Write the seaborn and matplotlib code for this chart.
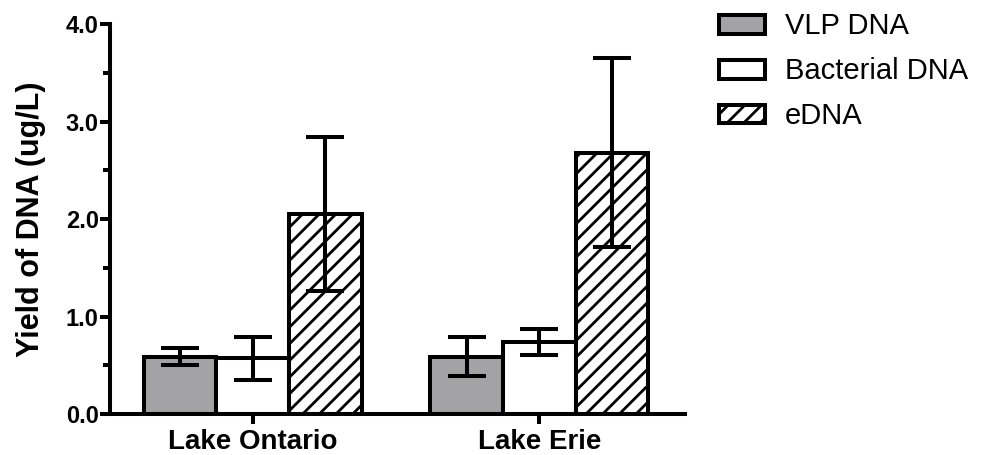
import matplotlib
matplotlib.use("Agg")
import matplotlib.pyplot as plt
from matplotlib.patches import Patch
from matplotlib.ticker import MultipleLocator, FormatStrFormatter
import seaborn as sns
import pandas as pd

lakes = ["Lake Ontario", "Lake Erie"]
dna_types = ["VLP DNA", "Bacterial DNA", "eDNA"]
vlp = [0.59, 0.59]
vlp_err = [0.09, 0.20]
bact = [0.57, 0.74]
bact_err = [0.22, 0.13]
edna = [2.05, 2.68]
edna_err = [0.79, 0.97]

means = [vlp, bact, edna]
errs = [vlp_err, bact_err, edna_err]

rows = []
for t, vals in zip(dna_types, means):
    for lake, v in zip(lakes, vals):
        rows.append({"lake": lake, "type": t, "yield": v})
df = pd.DataFrame(rows)

sns.set_style("ticks")
plt.rcParams["font.family"] = ["Liberation Sans", "DejaVu Sans"]
plt.rcParams["hatch.linewidth"] = 2.0
for k in ["text.color", "axes.labelcolor", "xtick.color", "ytick.color", "axes.edgecolor"]:
    plt.rcParams[k] = "black"

lw = 2.9
gray = "#a3a3a6"
colors = [gray, "white", "white"]

fig = plt.figure(figsize=(9.89, 4.55), dpi=100)
ax = fig.add_axes([0.111, 0.090, 0.582, 0.857])

sns.barplot(data=df, x="lake", y="yield", hue="type", hue_order=dna_types,
            palette=colors, edgecolor="black", linewidth=lw, width=0.76,
            saturation=1, errorbar=None, legend=False, ax=ax)

for bar in ax.containers[2]:
    bar.set_hatch("//")

for cont, e in zip(ax.containers, errs):
    xs = [b.get_x() + b.get_width() / 2 for b in cont]
    hs = [b.get_height() for b in cont]
    ax.errorbar(xs, hs, yerr=e, fmt="none", ecolor="black", elinewidth=lw,
                capsize=14, capthick=lw, zorder=5)

ax.set_ylim(0, 4.0)
ax.set_xlim(-0.498, 1.509)
ax.yaxis.set_major_locator(MultipleLocator(1.0))
ax.yaxis.set_minor_locator(MultipleLocator(0.5))
ax.yaxis.set_major_formatter(FormatStrFormatter("%.1f"))
ax.set_xlabel("")
ax.set_ylabel("Yield of DNA (ug/L)", fontsize=22, fontweight="bold", labelpad=14)

sns.despine(ax=ax)
for s in ["left", "bottom"]:
    ax.spines[s].set_linewidth(lw)
ax.tick_params(axis="both", which="major", length=7, width=lw)
ax.tick_params(axis="y", which="minor", length=5, width=lw)
ax.tick_params(axis="y", which="major", labelsize=17, pad=1)
ax.tick_params(axis="x", which="major", labelsize=20, pad=4)
for lbl in ax.get_xticklabels() + ax.get_yticklabels():
    lbl.set_fontweight("bold")

handles = [Patch(facecolor=c, edgecolor="black", linewidth=lw, hatch=h)
           for c, h in zip(colors, ["", "", "//"])]
ax.legend(handles, dna_types, loc="upper left", bbox_to_anchor=(1.059, 1.03),
          frameon=False, fontsize=21, handlelength=1.55, handleheight=0.62,
          handletextpad=0.7, labelspacing=0.58, borderpad=0, borderaxespad=0)

fig.savefig("out.png", dpi=100)
